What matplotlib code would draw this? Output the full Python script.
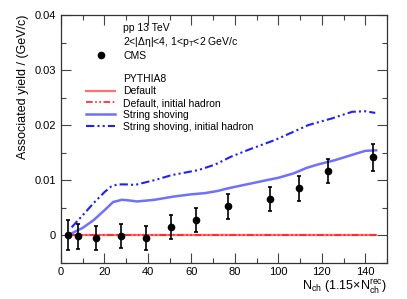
import numpy as np
import matplotlib
matplotlib.use('Agg')
import matplotlib.pyplot as plt
from matplotlib.lines import Line2D
from matplotlib.ticker import MultipleLocator

plt.rcParams['font.family'] = ['Liberation Sans', 'DejaVu Sans']
plt.rcParams['mathtext.fontset'] = 'custom'
plt.rcParams['mathtext.rm'] = 'Liberation Sans'
plt.rcParams['mathtext.it'] = 'Liberation Sans'

# CMS data
cms_x = [3.2, 7.8, 16.3, 27.8, 39.1, 50.5, 62.0, 76.9, 96.3, 109.6, 123.0, 143.7]
cms_y = [0.0, -0.00024, -0.00048, -0.00012, -0.00055, 0.0014, 0.0027, 0.0052,
         0.0065, 0.0085, 0.0116, 0.0141]
cms_err = [0.0027, 0.0023, 0.0022, 0.0022, 0.0022, 0.0022, 0.0022, 0.0023,
           0.0022, 0.0023, 0.0022, 0.0024]

# PYTHIA8 curves
shove_x = [4.9, 10, 15, 20, 24, 28, 31, 35, 43, 52, 60, 66, 72, 77, 83, 89,
           95, 100, 107, 113, 118, 126, 135, 140, 145]
shove_y = [0.0003, 0.0013, 0.0027, 0.0045, 0.0060, 0.0064, 0.0063, 0.0061,
           0.0064, 0.0070, 0.0074, 0.0076, 0.0080, 0.0085, 0.0090, 0.0095,
           0.0100, 0.0104, 0.0112, 0.0122, 0.0128, 0.0136, 0.0147, 0.0153, 0.0154]

shove_ih_x = [4.9, 10, 15, 20, 23, 26, 30, 34, 43.3, 51, 63.2, 70.9, 78,
              86.3, 98.6, 106, 113.9, 124.7, 130, 134, 140, 144.6]
shove_ih_y = [0.0014, 0.0036, 0.0058, 0.0078, 0.0088, 0.0092, 0.0092, 0.0091,
              0.0100, 0.0109, 0.0118, 0.0128, 0.0142, 0.0155, 0.0173, 0.0186,
              0.0200, 0.0212, 0.0219, 0.0224, 0.0225, 0.0222]

default_x = [5, 145]
default_y = [0.0, 0.0]
default_ih_x = [5, 145]
default_ih_y = [0.0, 0.0]

fig = plt.figure(figsize=(4.07, 2.99), dpi=100)
ax = fig.add_axes([61 / 407, 1 - 262.5 / 299, 326 / 407, 247.5 / 299])

l1, = ax.plot(default_x, default_y, color='#ff7070', lw=1.6)
l2, = ax.plot(default_ih_x, default_ih_y, color='#ff2020', lw=1.2,
              dashes=[4, 1.5, 1, 1.5, 1, 1.5])
l3, = ax.plot(shove_x, shove_y, color='#7070ff', lw=1.8)
l4, = ax.plot(shove_ih_x, shove_ih_y, color='#2020ff', lw=1.5,
              dashes=[4, 1.5, 1, 1.5, 1, 1.5])
eb = ax.errorbar(cms_x, cms_y, yerr=cms_err, fmt='o', color='black', ms=4.5,
                 elinewidth=1.2, capsize=1.2, capthick=1.2, zorder=5)

ax.set_xlim(0, 150)
ax.set_ylim(-0.005, 0.04)
ax.xaxis.set_major_locator(MultipleLocator(20))
ax.xaxis.set_minor_locator(MultipleLocator(10))
ax.yaxis.set_major_locator(MultipleLocator(0.01))
ax.yaxis.set_minor_locator(MultipleLocator(0.005))
ax.tick_params(which='both', direction='in', top=True, right=True,
               labelsize=8, color='#444444')
ax.tick_params(which='major', length=7, width=0.8)
ax.tick_params(which='minor', length=3.5, width=0.8)
ax.set_yticks([0, 0.01, 0.02, 0.03, 0.04])
ax.set_yticklabels(['0', '0.01', '0.02', '0.03', '0.04'])
for s in ax.spines.values():
    s.set_color('#333333')
    s.set_linewidth(0.9)

ax.set_ylabel('Associated yield / (GeV/c)', fontsize=9, loc='top')
ax.set_xlabel(r'N$_{\mathrm{ch}}$ (1.15$\times$N$_{\mathrm{ch}}^{\mathrm{rec}}$)',
              fontsize=9, loc='right', labelpad=0)

blank = Line2D([], [], linestyle='none')
cms_h = Line2D([], [], linestyle='none', marker='o', color='black', ms=4.5)
handles = [blank, blank, cms_h, blank, blank, l1, l2, l3, l4]
labels = ['pp 13 TeV', r'2<|$\Delta\eta$|<4, 1<p$_{\mathrm{T}}$<2 GeV/c', 'CMS', ' ',
          'PYTHIA8', 'Default', 'Default, initial hadron', 'String shoving',
          'String shoving, initial hadron']
ax.legend(handles, labels, loc='upper left', bbox_to_anchor=(0.077, 0.966),
          frameon=False, fontsize=7.5, borderpad=0, borderaxespad=0,
          handlelength=2.8, handletextpad=0.75, labelspacing=0.17)

fig.savefig('out.png', dpi=100)
